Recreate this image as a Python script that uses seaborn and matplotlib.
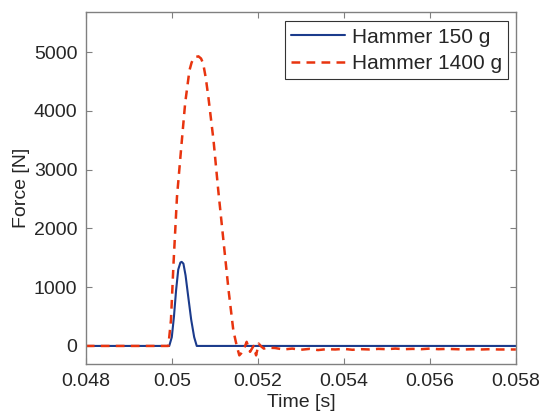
import numpy as np
import pandas as pd
import matplotlib
matplotlib.use("Agg")
import matplotlib.pyplot as plt
import seaborn as sns

# Impact force measured with two hammer masses
t_150 = [0.0480, 0.04994, 0.05000, 0.05005, 0.05010, 0.05015, 0.05020, 0.05023,
         0.05027, 0.05032, 0.05038, 0.05045, 0.05052, 0.05058, 0.0580]
f_150 = [0, 0, 150, 500, 950, 1300, 1420, 1430,
         1400, 1200, 850, 450, 150, 0, 0]

t_1400 = [0.0480, 0.04992, 0.04998, 0.05004, 0.05012, 0.05022, 0.05031, 0.05041,
          0.05046, 0.05050, 0.05056, 0.05062, 0.05068, 0.05073, 0.05079, 0.05085,
          0.05097, 0.05108, 0.05120, 0.05132,
          0.05143, 0.05151, 0.05157, 0.05162, 0.05167, 0.05174, 0.05182, 0.05190,
          0.05196, 0.05202, 0.05208, 0.05214, 0.05222,
          0.0524, 0.0526, 0.0528, 0.0530, 0.0532, 0.0534, 0.0536, 0.0538,
          0.0540, 0.0542, 0.0544, 0.0546, 0.0548, 0.0550, 0.0552, 0.0554,
          0.0556, 0.0558, 0.0560, 0.0562, 0.0564, 0.0566, 0.0568, 0.0570,
          0.0572, 0.0574, 0.0576, 0.0578, 0.0580]
f_1400 = [0, 0, 437, 1406, 2534, 3384, 4127, 4688,
          4820, 4888, 4918, 4927, 4890, 4803, 4560, 4235,
          3498, 2648, 1797, 947,
          267, 0, -160, -120, -70, 70, -100, 0,
          -160, 40, -10, -45, -30,
          -35, -60, -45, -65, -50, -70, -55, -60,
          -50, -65, -55, -60, -50, -55, -45, -55,
          -50, -55, -45, -55, -50, -55, -60, -55,
          -60, -55, -60, -60, -60]

x_ticks = [0.048, 0.050, 0.052, 0.054, 0.056, 0.058]
x_tick_labels = ["0.048", "0.05", "0.052", "0.054", "0.056", "0.058"]
y_ticks = [0, 1000, 2000, 3000, 4000, 5000]

df_150 = pd.DataFrame({"Time": t_150, "Force": f_150})
df_1400 = pd.DataFrame({"Time": t_1400, "Force": f_1400})

sns.set_theme(style="white")
plt.rcParams["font.family"] = ["Liberation Sans", "DejaVu Sans"]

fig = plt.figure(figsize=(5.43, 4.17), dpi=100)
ax = fig.add_axes([0.158, 0.126, 0.792, 0.845])

sns.lineplot(data=df_150, x="Time", y="Force", ax=ax, color="#1b3b8c",
             linewidth=1.5, label="Hammer 150 g", sort=False)
sns.lineplot(data=df_1400, x="Time", y="Force", ax=ax, color="#e8340f",
             linewidth=1.8, label="Hammer 1400 g", sort=False)
ax.lines[1].set_linestyle((0, (3.5, 2.5)))

ax.set_xlim(0.048, 0.058)
ax.set_ylim(-315, 5680)
ax.set_xticks(x_ticks)
ax.set_xticklabels(x_tick_labels)
ax.set_yticks(y_ticks)
ax.set_yticklabels([str(v) for v in y_ticks])

ax.set_xlabel("Time [s]", fontsize=14, labelpad=3)
ax.set_ylabel("Force [N]", fontsize=14, labelpad=3)
ax.tick_params(axis="both", which="both", direction="in", length=4,
               width=0.8, color="#808080", labelsize=14,
               top=True, right=True, bottom=True, left=True, pad=6)
for s in ax.spines.values():
    s.set_color("#808080")
    s.set_linewidth(1.0)

leg = ax.legend(loc="upper right", fontsize=15, frameon=True, fancybox=False,
                edgecolor="black", handlelength=2.6, borderpad=0.3,
                labelspacing=0.35, handletextpad=0.3, borderaxespad=0.0,
                bbox_to_anchor=(0.982, 0.974))
leg.get_frame().set_linewidth(0.8)

fig.savefig("out.png", dpi=100)
